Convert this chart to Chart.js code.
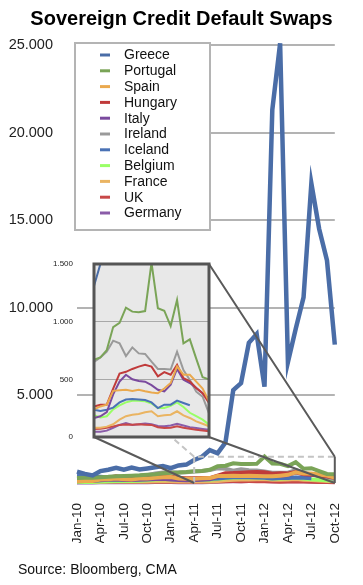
<!DOCTYPE html>
<html>
<head>
<meta charset="utf-8">
<script src="https://cdn.jsdelivr.net/npm/chart.js@4/dist/chart.umd.min.js"></script>
<style>
  body { margin: 0; background: #fff; }
  #wrap { position: relative; width: 363px; height: 585px; }
  #mainChart { position: absolute; left: 0; top: 0; }
  #insetChart { position: absolute; left: 0; top: 234px; }
</style>
</head>
<body>
<div id="wrap">
  <canvas id="mainChart" width="363" height="585"></canvas>
  <canvas id="insetChart" width="215" height="233"></canvas>
</div>
<script>
const months = ['Jan-10','Feb-10','Mar-10','Apr-10','May-10','Jun-10','Jul-10','Aug-10','Sep-10','Oct-10','Nov-10','Dec-10',
  'Jan-11','Feb-11','Mar-11','Apr-11','May-11','Jun-11','Jul-11','Aug-11','Sep-11','Oct-11','Nov-11','Dec-11',
  'Jan-12','Feb-12','Mar-12','Apr-12','May-12','Jun-12','Jul-12','Aug-12','Sep-12','Oct-12'];

const countries = ['Greece','Portugal','Spain','Hungary','Italy','Ireland','Iceland','Belgium','France','UK','Germany'];
const colors = ['#4a6da7','#7aa457','#eaa94e','#c03a3a','#7a4a9e','#9a9a9a','#4a72b5','#99ff66','#eab462','#c84848','#8a5ca8'];

const greece   = [650,520,430,680,760,870,760,880,770,830,900,970,850,1000,1050,1310,1500,1880,1700,2300,5300,5700,8000,8500,5500,21300,25100,6900,8800,10600,17100,14500,12700,7900];
const portugal = [280,300,300,330,350,380,400,420,440,470,500,550,580,600,630,670,690,754,953,990,1121,1087,1081,1092,1511,1116,1095,962,1188,812,847,680,518,500];
const spain    = [100,110,120,200,220,250,220,200,250,250,300,330,340,250,240,240,265,280,400,405,410,400,410,396,385,380,420,468,613,540,540,480,420,310];
const hungary  = [200,200,210,250,300,380,330,330,330,370,380,400,360,300,275,265,280,280,420,550,565,590,610,627,610,526,563,540,627,511,483,425,380,295];
const italy    = [100,110,120,160,180,200,170,170,190,200,230,240,200,170,160,165,180,215,370,480,540,500,485,480,450,410,396,453,590,497,468,425,380,330];
const ireland  = [150,150,160,200,230,280,300,300,400,450,550,600,620,600,620,650,690,740,835,812,702,777,725,720,653,590,590,585,740,581,494,393,350,205];
const iceland  = [400,380,380,360,320,300,280,280,280,260,260,250,240,230,235,237,225,237,255,300,325,330,325,320,300,251,280,280,315,295,275,null,null,null];
const belgium  = [60,60,60,80,100,120,120,110,130,150,200,220,210,190,180,190,170,180,240,275,300,315,315,310,290,251,251,270,300,260,210,180,150,107];
const france   = [50,55,60,70,80,90,80,80,80,90,100,110,100,90,80,80,80,90,110,150,180,193,199,215,223,180,188,193,223,188,165,136,115,93];
const uk       = [80,80,80,90,90,90,80,75,70,70,70,70,70,65,70,70,72,80,92,105,108,107,110,107,105,85,78,80,93,80,72,63,57,49];
const germany  = [35,35,35,40,45,50,40,40,40,45,50,55,50,45,45,45,45,55,80,105,121,105,110,118,110,95,93,100,115,100,85,78,70,63];

const series = [greece, portugal, spain, hungary, italy, ireland, iceland, belgium, france, uk, germany];

const mainTicks = [5000, 10000, 15000, 20000, 25000];
const insetTicks = [0, 500, 1000, 1500];
const zoomFrom = 'Apr-11';

const FONT = '"Liberation Sans", Arial, Helvetica, sans-serif';
const fmt = v => String(v).replace(/\B(?=(\d{3})+(?!\d))/g, '.');
const zoomStart = months.indexOf(zoomFrom);

// grey panel behind the zoomed lines, dark frame on top
const insetPanel = {
  id: 'insetPanel',
  beforeDraw(chart) {
    const a = chart.chartArea, c = chart.ctx;
    c.save();
    c.fillStyle = '#e8e8e8';
    c.fillRect(a.left, a.top, a.right - a.left, a.bottom - a.top);
    c.restore();
  },
  afterDraw(chart) {
    const a = chart.chartArea, c = chart.ctx;
    c.save();
    c.strokeStyle = '#555';
    c.lineWidth = 3;
    c.strokeRect(a.left, a.top, a.right - a.left, a.bottom - a.top);
    c.restore();
  }
};

const insetChart = new Chart(document.getElementById('insetChart'), {
  type: 'line',
  data: {
    labels: months.slice(zoomStart),
    datasets: countries.map((name, i) => ({
      label: name,
      data: series[i].slice(zoomStart),
      borderColor: colors[i],
      borderWidth: 2,
      pointRadius: 0,
      tension: 0
    }))
  },
  options: {
    responsive: false,
    animation: false,
    layout: { padding: { left: 0, top: 30, right: 6, bottom: 30 } },
    plugins: { legend: { display: false }, tooltip: { enabled: false } },
    scales: {
      x: { display: false, offset: false },
      y: {
        min: 0, max: 1500,
        afterBuildTicks: s => { s.ticks = insetTicks.map(v => ({ value: v })); },
        afterFit: s => { s.width = 94; },
        ticks: { font: { family: FONT, size: 8 }, color: '#222', padding: 21, callback: v => fmt(v) },
        grid: {
          drawTicks: false,
          color: c => (c.tick.value === 0 || c.tick.value === 1500) ? 'transparent' : '#a8a8a8',
          lineWidth: 1
        },
        border: { display: false }
      }
    }
  },
  plugins: [insetPanel]
});

// main chart decorations: title, source, legend, zoom window and connectors
const decor = {
  id: 'decor',
  afterDatasetsDraw(chart) {
    const c = chart.ctx, xs = chart.scales.x, ys = chart.scales.y;
    const x0 = xs.getPixelForValue(zoomStart), x1 = xs.getPixelForValue(months.length - 1);
    const y0 = ys.getPixelForValue(0), y1 = ys.getPixelForValue(1500);
    const cv = document.getElementById('insetChart');
    const ia = insetChart.chartArea, ox = cv.offsetLeft, oy = cv.offsetTop;
    const L = ia.left + ox, R = ia.right + ox, T = ia.top + oy, B = ia.bottom + oy;
    c.save();
    c.strokeStyle = '#c4c4c4';
    c.lineWidth = 2;
    c.setLineDash([6, 4]);
    c.beginPath();
    c.moveTo(x0, y0); c.lineTo(x0, y1); c.lineTo(x1, y1);
    c.moveTo(x0, y1); c.lineTo(x0 - 30, y1 - 26);
    c.stroke();
    c.setLineDash([]);
    c.strokeStyle = '#5a5a5a';
    c.lineWidth = 2;
    c.beginPath();
    c.moveTo(x1, y1); c.lineTo(x1, y0);
    c.moveTo(L, B); c.lineTo(x0, y0);
    c.moveTo(R, B); c.lineTo(x1, y0);
    c.moveTo(R, T); c.lineTo(x1, y1);
    c.stroke();
    c.restore();
  },
  afterDraw(chart) {
    const c = chart.ctx, a = chart.chartArea;
    c.save();
    c.fillStyle = '#000';
    c.font = 'bold 20px ' + FONT;
    c.textAlign = 'center';
    c.textBaseline = 'alphabetic';
    c.fillText('Sovereign Credit Default Swaps', chart.width / 2, 25);
    c.font = '14px ' + FONT;
    c.textAlign = 'left';
    c.fillStyle = '#111';
    c.fillText('Source: Bloomberg, CMA', 18, 574);

    // legend box
    const lx = a.left - 2, ly = a.top - 2, lw = 135, lh = 187;
    c.fillStyle = '#fff';
    c.fillRect(lx, ly, lw, lh);
    c.strokeStyle = '#b4b4b4';
    c.lineWidth = 2;
    c.strokeRect(lx, ly, lw, lh);
    c.font = '14px ' + FONT;
    c.textBaseline = 'middle';
    chart.data.datasets.forEach((d, i) => {
      const yy = ly + 12 + i * 15.8;
      c.strokeStyle = d.borderColor;
      c.lineWidth = 3;
      c.beginPath();
      c.moveTo(lx + 25, yy); c.lineTo(lx + 35, yy);
      c.stroke();
      c.fillStyle = '#111';
      c.fillText(d.label, lx + 49, yy + 0.5);
    });
    c.restore();
  }
};

const mainChart = new Chart(document.getElementById('mainChart'), {
  type: 'line',
  data: {
    labels: months,
    datasets: countries.map((name, i) => ({
      label: name,
      data: series[i],
      borderColor: colors[i],
      borderWidth: i === 0 ? 4.5 : 4,
      pointRadius: 0,
      tension: 0,
      clip: false
    }))
  },
  options: {
    responsive: false,
    animation: false,
    layout: { padding: { left: 0, top: 45, right: 15, bottom: 42 } },
    plugins: { legend: { display: false }, tooltip: { enabled: false } },
    scales: {
      x: {
        offset: false,
        afterFit: s => { s.height = 60; },
        grid: { display: false },
        border: { display: false },
        ticks: {
          autoSkip: false, maxRotation: 90, minRotation: 90, padding: 12,
          font: { family: FONT, size: 13.5 }, color: '#222',
          callback: (v, i) => (i % 3 === 0 ? months[i] : '')
        }
      },
      y: {
        min: 0, max: 25000,
        afterBuildTicks: s => { s.ticks = [0].concat(mainTicks).map(v => ({ value: v })); },
        afterFit: s => { s.width = 77; },
        ticks: {
          font: { family: FONT, size: 14.5 }, color: '#222', padding: 24,
          callback: v => (v === 0 ? '' : fmt(v))
        },
        grid: {
          drawTicks: false,
          color: c => (c.tick.value === 0 ? 'transparent' : '#b3b3b3'),
          lineWidth: 2
        },
        border: { display: false }
      }
    }
  },
  plugins: [decor]
});
</script>
</body>
</html>
